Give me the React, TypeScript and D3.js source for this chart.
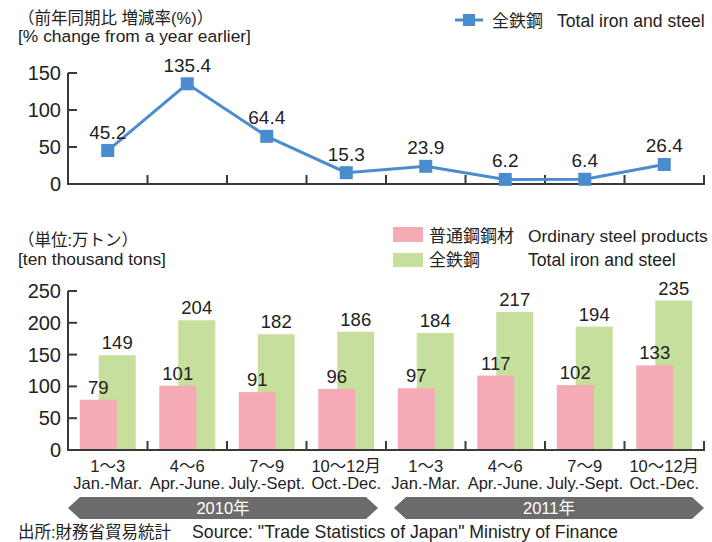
import React from "react";
import * as d3 from "d3";

const categoriesJa = ["1〜3", "4〜6", "7〜9", "10〜12月", "1〜3", "4〜6", "7〜9", "10〜12月"];
const categoriesEn = ["Jan.-Mar.", "Apr.-June.", "July.-Sept.", "Oct.-Dec.", "Jan.-Mar.", "Apr.-June.", "July.-Sept.", "Oct.-Dec."];
const years = ["2010年", "2011年"];
const changePct = [45.2, 135.4, 64.4, 15.3, 23.9, 6.2, 6.4, 26.4];
const ordinarySteel = [79, 101, 91, 96, 97, 117, 102, 133];
const totalIronSteel = [149, 204, 182, 186, 184, 217, 194, 235];
const lineTicks = [0, 50, 100, 150];
const barTicks = [0, 50, 100, 150, 200, 250];

const FONT = "'Liberation Sans', Arial, 'Noto Sans CJK JP', sans-serif";
const AXIS = "#3a3a3a";
const BLUE = "#4a8cce";
const PINK = "#f5aab5";
const GREEN = "#c6df9d";
const TEXT = "#222";

export default function App() {
  const W = 712, H = 542;
  const x0 = 68, x1 = 704;
  const idx = d3.range(categoriesJa.length);
  const xBand = d3.scaleBand<number>().domain(idx).range([x0, x1]).padding(0);
  const bw = xBand.bandwidth();
  const cx = (i: number) => (xBand(i) as number) + bw / 2;

  const yLine = d3.scaleLinear().domain([0, 150]).range([184, 73]);
  const yBar = d3.scaleLinear().domain([0, 250]).range([450, 291]);

  const lineGen = d3.line<number>().x((_, i) => cx(i)).y((d) => yLine(d));

  const barW = 37;
  const off = 9.5;

  const yearGroups = [0, 4];

  return (
    <svg width={W} height={H} style={{ position: "absolute", left: 0, top: 0, background: "#fff" }} fontFamily={FONT}>
      {/* top header */}
      <text x={18} y={24} fontSize={16.5} fill={TEXT}>（前年同期比 増減率(%)）</text>
      <text x={18} y={42} fontSize={17.4} fill={TEXT}>[% change from a year earlier]</text>

      {/* top legend */}
      <line x1={455} x2={483} y1={20} y2={20} stroke={BLUE} strokeWidth={3} />
      <rect x={463} y={14} width={12} height={12} fill={BLUE} />
      <text x={492} y={27} fontSize={17} fill={TEXT}>全鉄鋼</text>
      <text x={557} y={27} fontSize={17.6} fill={TEXT}>Total iron and steel</text>

      {/* line chart axes */}
      <line x1={x0} x2={x0} y1={yLine(150)} y2={yLine(0)} stroke={AXIS} strokeWidth={2} />
      <line x1={x0 - 1} x2={x1 + 1} y1={yLine(0)} y2={yLine(0)} stroke={AXIS} strokeWidth={2} />
      {lineTicks.map((t) => (
        <g key={"lt" + t}>
          {t > 0 && <line x1={x0} x2={x0 + 9} y1={yLine(t)} y2={yLine(t)} stroke={AXIS} strokeWidth={2} />}
          <text x={x0 - 7} y={yLine(t) + 7} fontSize={20} textAnchor="end" fill={TEXT}>{t}</text>
        </g>
      ))}
      {idx.map((i) => (
        <line key={"ltx" + i} x1={(xBand(i) as number) + bw} x2={(xBand(i) as number) + bw} y1={yLine(0)} y2={yLine(0) - 9} stroke={AXIS} strokeWidth={2} />
      ))}

      {/* line */}
      <path d={lineGen(changePct) || ""} fill="none" stroke={BLUE} strokeWidth={3} />
      {changePct.map((v, i) => (
        <g key={"pt" + i}>
          <rect x={cx(i) - 6.5} y={yLine(v) - 6.5} width={13} height={13} fill={BLUE} />
          <text x={cx(i)} y={yLine(v) - 12} fontSize={19} textAnchor="middle" fill={TEXT}>{v.toFixed(1)}</text>
        </g>
      ))}

      {/* bar header */}
      <text x={18} y={246} fontSize={16.5} fill={TEXT}>（単位:万トン）</text>
      <text x={18} y={265} fontSize={17.4} fill={TEXT}>[ten thousand tons]</text>

      {/* bar legend */}
      <rect x={393} y={227} width={30} height={15} fill={PINK} />
      <rect x={393} y={253} width={30} height={14} fill={GREEN} />
      <text x={429} y={242} fontSize={17} fill={TEXT}>普通鋼鋼材</text>
      <text x={528} y={242} fontSize={17.4} fill={TEXT}>Ordinary steel products</text>
      <text x={429} y={266} fontSize={17} fill={TEXT}>全鉄鋼</text>
      <text x={528} y={266} fontSize={17.6} fill={TEXT}>Total iron and steel</text>

      {/* bars */}
      {totalIronSteel.map((v, i) => (
        <rect key={"g" + i} x={cx(i) + off - barW / 2} y={yBar(v)} width={barW} height={yBar(0) - yBar(v)} fill={GREEN} />
      ))}
      {ordinarySteel.map((v, i) => (
        <rect key={"p" + i} x={cx(i) - off - barW / 2} y={yBar(v)} width={barW} height={yBar(0) - yBar(v)} fill={PINK} />
      ))}
      {totalIronSteel.map((v, i) => (
        <text key={"gl" + i} x={cx(i) + off} y={yBar(v) - 6} fontSize={18.5} textAnchor="middle" fill={TEXT}>{v}</text>
      ))}
      {ordinarySteel.map((v, i) => (
        <text key={"pl" + i} x={cx(i) - off} y={yBar(v) - 6} fontSize={18.5} textAnchor="middle" fill={TEXT}>{v}</text>
      ))}

      {/* bar axes */}
      <line x1={x0} x2={x0} y1={yBar(250)} y2={yBar(0)} stroke={AXIS} strokeWidth={2} />
      <line x1={x0 - 1} x2={x1 + 1} y1={yBar(0)} y2={yBar(0)} stroke={AXIS} strokeWidth={2} />
      {barTicks.map((t) => (
        <g key={"bt" + t}>
          {t > 0 && <line x1={x0} x2={x0 + 9} y1={yBar(t)} y2={yBar(t)} stroke={AXIS} strokeWidth={2} />}
          <text x={x0 - 7} y={yBar(t) + 7} fontSize={20} textAnchor="end" fill={TEXT}>{t}</text>
        </g>
      ))}
      {idx.map((i) => (
        <line key={"btx" + i} x1={(xBand(i) as number) + bw} x2={(xBand(i) as number) + bw} y1={yBar(0)} y2={yBar(0) - 9} stroke={AXIS} strokeWidth={2} />
      ))}

      {/* category labels */}
      {idx.map((i) => (
        <g key={"cl" + i}>
          <text x={cx(i)} y={472} fontSize={16.5} textAnchor="middle" fill={TEXT}>{categoriesJa[i]}</text>
          <text x={cx(i)} y={489} fontSize={16.5} textAnchor="middle" fill={TEXT}>{categoriesEn[i]}</text>
        </g>
      ))}

      {/* year arrows */}
      {yearGroups.map((start, k) => {
        const a = (xBand(start) as number) + (k === 0 ? 0 : 8);
        const b = (xBand(start + 3) as number) + bw - (k === 0 ? 8 : 0);
        const top = 497, bot = 519, mid = (top + bot) / 2, tip = 12;
        const pts = [[a, mid], [a + tip, top], [b - tip, top], [b, mid], [b - tip, bot], [a + tip, bot]]
          .map((p) => p.join(",")).join(" ");
        return (
          <g key={"yr" + k}>
            <polygon points={pts} fill="#6b6b6b" />
            <text x={(a + b) / 2} y={mid + 6} fontSize={16.5} textAnchor="middle" fill="#fff">{years[k]}</text>
          </g>
        );
      })}

      {/* source */}
      <text x={18} y={538} fontSize={16.5} fill={TEXT}>出所:財務省貿易統計</text>
      <text x={192} y={538} fontSize={17.7} fill={TEXT}>Source: "Trade Statistics of Japan" Ministry of Finance</text>
    </svg>
  );
}
